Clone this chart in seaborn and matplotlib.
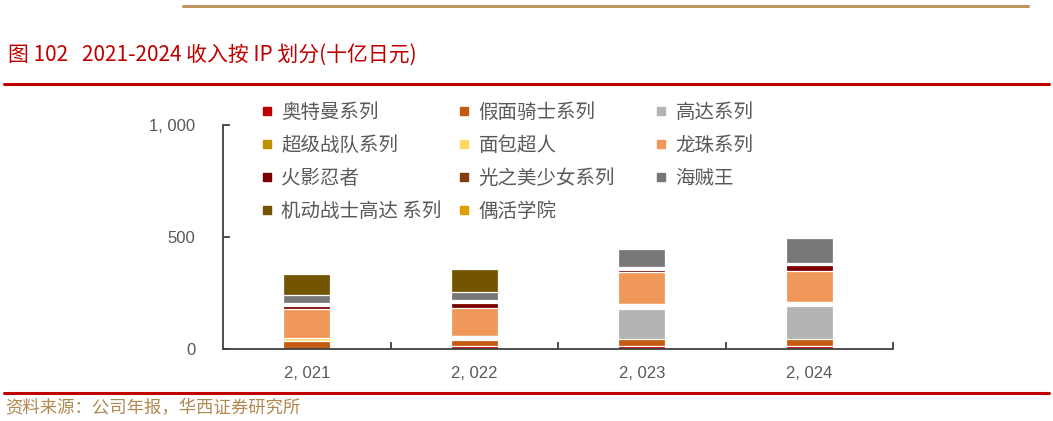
import matplotlib
matplotlib.use("Agg")
import matplotlib.pyplot as plt
import numpy as np
import pandas as pd
import seaborn as sns
from matplotlib.lines import Line2D

# data (十亿日元)
years = ["2, 021", "2, 022", "2, 023", "2, 024"]
series_names = ["奥特曼系列", "假面骑士系列", "高达系列", "超级战队系列", "面包超人", "龙珠系列",
                "火影忍者", "光之美少女系列", "海贼王", "机动战士高达 系列", "偶活学院"]
ultraman = [0, 13, 13, 13]
kamen_rider = [34, 26, 33, 33]
gundam = [0, 0, 134, 147]
super_sentai = [0, 0, 0, 0]
anpanman = [17, 0, 0, 0]
dragon_ball = [126, 124, 143, 137]
naruto = [16, 25, 10, 27]
precure = [0, 0, 0, 0]
one_piece = [39, 37, 82, 112]
mobile_suit_gundam = [91, 103, 0, 0]
aikatsu = [0, 0, 0, 0]
# blank (white) stretches inside the stacks of the original picture
blank_low = [0, 19, 19, 18]
blank_mid = [11, 12, 14, 10]

colors = ["#C00000", "#C55A11", "#B4B4B4", "#BF9000", "#FFD966", "#F0985A",
          "#7B0000", "#843C0C", "#777777", "#735400", "#DDA000"]
ytick_vals = [0, 500, 1000]
ytick_labels = ["0", "500", "1, 000"]

sns.set_theme(style="white")
plt.rcParams["font.family"] = ["Noto Sans CJK SC", "DejaVu Sans"]

fig = plt.figure(figsize=(10.53, 4.21), dpi=100)
W, H = 1053, 421
ax = fig.add_axes([223 / W, 1 - 349 / H, (893 - 223) / W, (349 - 125) / H])

# stacking order, bottom to top
layers = [
    (ultraman, colors[0]), (kamen_rider, colors[1]), (gundam, colors[2]),
    (super_sentai, colors[3]), (blank_low, "white"), (anpanman, colors[4]),
    (dragon_ball, colors[5]), (naruto, colors[6]), (precure, colors[7]),
    (blank_mid, "white"), (one_piece, colors[8]), (mobile_suit_gundam, colors[9]),
    (aikatsu, colors[10]),
]
stack = pd.DataFrame({i: vals for i, (vals, _) in enumerate(layers)}, index=years)
cum = stack.cumsum(axis=1)
for i in reversed(range(len(layers))):
    sns.barplot(x=years, y=cum[i].values, color=layers[i][1], saturation=1, width=0.28,
                edgecolor="white", linewidth=0.9, ax=ax)

ax.set_xlim(-0.5, 3.5)
ax.set_ylim(0, 1000)
ax.set_yticks(ytick_vals)
ax.set_yticklabels(ytick_labels)
ax.set_xticks(np.arange(len(years)) + 0.5, minor=True)
ax.tick_params(axis="x", which="major", length=0, pad=12.5)
ax.tick_params(axis="x", which="minor", direction="in", length=5, width=1.3, color="#404040", bottom=True)
ax.tick_params(axis="y", direction="in", length=5, width=1.3, color="#404040", left=True, pad=20)
for lab in ax.get_xticklabels() + ax.get_yticklabels():
    lab.set_fontfamily(["Liberation Sans", "DejaVu Sans"])
    lab.set_fontsize(12)
    lab.set_color("#595959")
ax.set_xlabel("")
ax.set_ylabel("")
for side in ["top", "right"]:
    ax.spines[side].set_visible(False)
for side in ["left", "bottom"]:
    ax.spines[side].set_color("#404040")
    ax.spines[side].set_linewidth(1.3)

# legend: three columns, placed one by one like the original
cols = [[0, 3, 6, 9], [1, 4, 7, 10], [2, 5, 8]]
col_x = [262, 459, 656]
legs = []
for cx, idx in zip(col_x, cols):
    handles = [Line2D([], [], marker="s", linestyle="none", markersize=6,
                      markerfacecolor=colors[i], markeredgecolor=colors[i]) for i in idx]
    leg = ax.legend(handles, [series_names[i] for i in idx], loc="upper left",
                    bbox_to_anchor=(cx / W, 1 - 102 / H), bbox_transform=fig.transFigure,
                    frameon=False, fontsize=14, labelcolor="#595959", handlelength=0.55,
                    handletextpad=0.45, borderpad=0, borderaxespad=0, labelspacing=0.61)
    legs.append(leg)
for leg in legs[:-1]:
    ax.add_artist(leg)

# header / footer decoration
fig.add_artist(Line2D([183 / W, 1028 / W], [1 - 6 / H, 1 - 6 / H], color="#C09660", linewidth=2.2))
fig.text(8 / W, 1 - 55 / H, "图 102   2021-2024 收入按 IP 划分(十亿日元)", color="#C00000",
         fontsize=15, va="center", ha="left")
fig.add_artist(Line2D([4 / W, 1049 / W], [1 - 84 / H, 1 - 84 / H], color="#C00000", linewidth=2.2))
fig.add_artist(Line2D([4 / W, 1049 / W], [1 - 393 / H, 1 - 393 / H], color="#C00000", linewidth=2.2))
fig.text(5 / W, 1 - 408 / H, "资料来源：公司年报，华西证券研究所", color="#B08850",
         fontsize=12.5, va="center", ha="left")

fig.savefig("out.png", dpi=100)
